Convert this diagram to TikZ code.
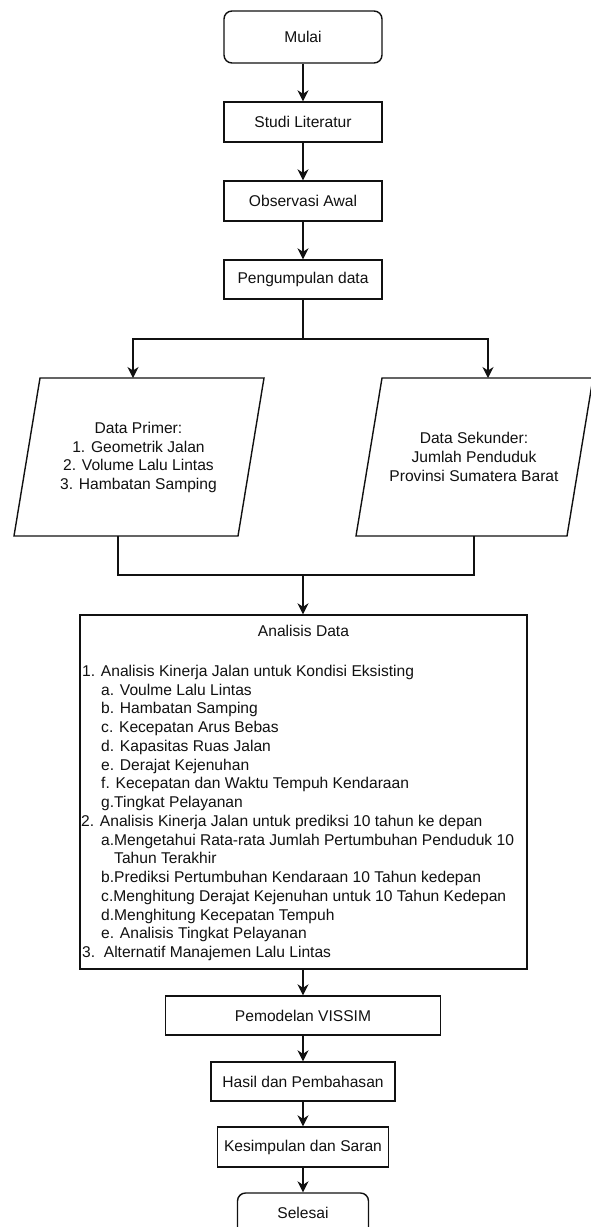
\documentclass[tikz,border=0pt]{standalone}
\usepackage{fontspec}
\setmainfont{Liberation Sans}
\usetikzlibrary{arrows.meta}
\definecolor{ink}{HTML}{111111}
\newcommand{\ftxt}{\fontsize{15.6pt}{18.9pt}\selectfont}
\tikzset{
  flowbox/.style n args={2}{draw=ink, line width=1.4pt, minimum width=#1, minimum height=#2,
    inner sep=0pt, font=\ftxt, text=ink, fill=white},
  termbox/.style n args={2}{flowbox={#1}{#2}, rounded corners=8pt},
  shapeline/.style={draw=ink, line width=1.4pt, line join=miter},
  conn/.style={draw=ink, line width=1.4pt},
  arr/.style={conn, -{Stealth[length=11pt,width=11pt,inset=3.5pt]}},
  txtlabel/.style={font=\ftxt, text=ink, inner sep=0pt, align=center},
  listline/.style={font=\ftxt, text=ink, inner sep=0pt, anchor=base west}
}
\begin{document}
\begin{tikzpicture}[x=1pt, y=-1pt]
\useasboundingbox (0,0) rectangle (591,1227);
\clip (0,0) rectangle (591,1227);
\fill[white] (0,0) rectangle (591,1227);

% top chain
\node[termbox={158pt}{52pt}] (mulai) at (303,37) {Mulai};
\node[flowbox={158pt}{40pt}] (studi) at (303,122) {Studi Literatur};
\node[flowbox={158pt}{40pt}] (obs) at (303,201) {Observasi Awal};
\node[flowbox={158pt}{39pt}] (peng) at (303,279.5) {Pengumpulan data};

\draw[arr] (mulai.south) -- (studi.north);
\draw[arr] (studi.south) -- (obs.north);
\draw[arr] (obs.south) -- (peng.north);

% parallelograms
\coordinate (pTL) at (40,378);
\coordinate (pTR) at (264,378);
\coordinate (pBR) at (238,536);
\coordinate (pBL) at (14,536);
\draw[shapeline] (pTL) -- (pTR) -- (pBR) -- (pBL) -- cycle;
\node[txtlabel] (primer) at (138.5,457.5) {Data Primer:\\1. Geometrik Jalan\\2. Volume Lalu Lintas\\3. Hambatan Samping};

\coordinate (sTL) at (382,378);
\coordinate (sTR) at (593,378);
\coordinate (sBR) at (567,536);
\coordinate (sBL) at (356,536);
\draw[shapeline] (sTL) -- (sTR) -- (sBR) -- (sBL) -- cycle;
\node[txtlabel] (sekunder) at (474,457) {Data Sekunder:\\Jumlah Penduduk\\Provinsi Sumatera Barat};

\coordinate (primTop) at (133,378);
\coordinate (sekTop) at (488,378);
\coordinate (split) at (303,339);
\draw[conn] (peng.south) -- (split);
\draw[arr] (split) -| (primTop);
\draw[arr] (split) -| (sekTop);

\coordinate (primBot) at (118,536);
\coordinate (sekBot) at (474,536);
\coordinate (merge) at (303,575);
\draw[conn] (primBot) |- (merge) -| (sekBot);

% analysis box
\node[flowbox={447pt}{354pt}] (analisis) at (303.5,792) {};
\draw[arr] (merge) -- (merge |- analisis.north);
\node[txtlabel] (antitle) at (303.5,631) {Analisis Data};

\foreach \ind/\t [count=\i] in {
  0/{1. Analisis Kinerja Jalan untuk Kondisi Eksisting},
  19/{a. Voulme Lalu Lintas},
  19/{b. Hambatan Samping},
  19/{c. Kecepatan Arus Bebas},
  19/{d. Kapasitas Ruas Jalan},
  19/{e. Derajat Kejenuhan},
  19/{f. Kecepatan dan Waktu Tempuh Kendaraan},
  19/{g.Tingkat Pelayanan},
  -1/{2. Analisis Kinerja Jalan untuk prediksi 10 tahun ke depan},
  19/{a.Mengetahui Rata-rata Jumlah Pertumbuhan Penduduk 10},
  32/{Tahun Terakhir},
  19/{b.Prediksi Pertumbuhan Kendaraan 10 Tahun kedepan},
  19/{c.Menghitung Derajat Kejenuhan untuk 10 Tahun Kedepan},
  19/{d.Menghitung Kecepatan Tempuh},
  19/{e. Analisis Tingkat Pelayanan},
  0/{3.\ \ Alternatif Manajemen Lalu Lintas}} {
  \node[listline] (line\i) at ({82+\ind},{676.5+(\i-1)*18.73}) {\t};
}

% bottom chain
\node[flowbox={275pt}{39pt}] (model) at (303,1015.5) {Pemodelan VISSIM};
\node[flowbox={184pt}{39pt}] (hasil) at (303,1081.5) {Hasil dan Pembahasan};
\node[flowbox={171pt}{40pt}] (kesim) at (303,1147) {Kesimpulan dan Saran};
\node[termbox={131pt}{54pt}, text depth=14pt] (selesai) at (303,1220) {Selesai};

\draw[arr] (model.north |- analisis.south) -- (model.north);
\draw[arr] (model.south) -- (hasil.north);
\draw[arr] (hasil.south) -- (kesim.north);
\draw[arr] (kesim.south) -- (selesai.north);
\end{tikzpicture}
\end{document}
